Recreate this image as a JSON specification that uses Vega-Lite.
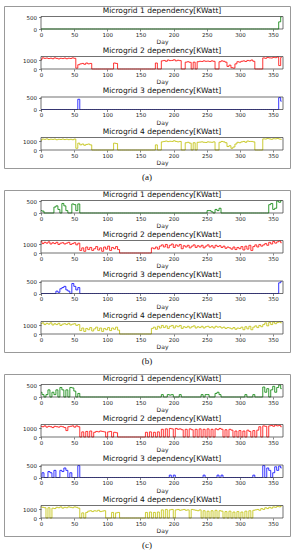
{"$schema":"https://vega.github.io/schema/vega-lite/v6.json","padding":{"left":3,"top":5,"right":0,"bottom":0},"background":"white",
"data":{"values":[
{"d":0,"a1":0,"a2":1100,"a3":0,"a4":1150,"b1":100,"b2":1350,"b3":0,"b4":1200,"c1":200,"c2":1250,"c3":0,"c4":1300},
{"d":3,"a1":0,"a2":1300,"a3":0,"a4":1280,"b1":80,"b2":1100,"b3":0,"b4":1300,"c1":100,"c2":1200,"c3":200,"c4":1250},
{"d":6,"a1":0,"a2":1250,"a3":0,"a4":1250,"b1":0,"b2":1250,"b3":0,"b4":1100,"c1":0,"c2":1300,"c3":0,"c4":1200},
{"d":9,"a1":0,"a2":1280,"a3":0,"a4":1300,"b1":0,"b2":1150,"b3":0,"b4":1250,"c1":100,"c2":1150,"c3":0,"c4":0},
{"d":12,"a1":0,"a2":1220,"a3":0,"a4":1220,"b1":0,"b2":1300,"b3":0,"b4":1150,"c1":300,"c2":1250,"c3":250,"c4":1200},
{"d":15,"a1":0,"a2":1260,"a3":0,"a4":1260,"b1":0,"b2":1050,"b3":0,"b4":1300,"c1":0,"c2":1200,"c3":200,"c4":0},
{"d":18,"a1":0,"a2":1200,"a3":0,"a4":1240,"b1":0,"b2":1200,"b3":0,"b4":1050,"c1":200,"c2":1100,"c3":0,"c4":1150},
{"d":21,"a1":0,"a2":1300,"a3":0,"a4":1280,"b1":250,"b2":1100,"b3":0,"b4":1200,"c1":100,"c2":1250,"c3":300,"c4":1100},
{"d":24,"a1":0,"a2":1240,"a3":0,"a4":1200,"b1":300,"b2":1250,"b3":100,"b4":1100,"c1":300,"c2":1200,"c3":0,"c4":1250},
{"d":27,"a1":0,"a2":1180,"a3":0,"a4":1250,"b1":150,"b2":1000,"b3":50,"b4":1250,"c1":0,"c2":1150,"c3":0,"c4":1200},
{"d":30,"a1":0,"a2":1250,"a3":0,"a4":1230,"b1":0,"b2":1150,"b3":200,"b4":1000,"c1":400,"c2":1250,"c3":300,"c4":1300},
{"d":33,"a1":0,"a2":1220,"a3":0,"a4":1280,"b1":400,"b2":1200,"b3":250,"b4":1150,"c1":300,"c2":1200,"c3":250,"c4":1150},
{"d":36,"a1":0,"a2":1280,"a3":0,"a4":1220,"b1":300,"b2":1050,"b3":300,"b4":1200,"c1":0,"c2":1100,"c3":400,"c4":1250},
{"d":39,"a1":0,"a2":1200,"a3":0,"a4":1260,"b1":100,"b2":1150,"b3":150,"b4":1100,"c1":300,"c2":750,"c3":300,"c4":1200},
{"d":42,"a1":0,"a2":1260,"a3":0,"a4":1210,"b1":0,"b2":1250,"b3":100,"b4":1250,"c1":0,"c2":1200,"c3":0,"c4":1300},
{"d":45,"a1":0,"a2":1230,"a3":0,"a4":1250,"b1":0,"b2":1000,"b3":0,"b4":1050,"c1":400,"c2":1250,"c3":200,"c4":1250},
{"d":48,"a1":0,"a2":1300,"a3":0,"a4":1200,"b1":380,"b2":1100,"b3":420,"b4":1150,"c1":380,"c2":1300,"c3":0,"c4":1200},
{"d":51,"a1":0,"a2":1250,"a3":0,"a4":1280,"b1":350,"b2":1200,"b3":300,"b4":1200,"c1":250,"c2":1150,"c3":0,"c4":1300},
{"d":54,"a1":0,"a2":100,"a3":0,"a4":200,"b1":100,"b2":950,"b3":150,"b4":1000,"c1":0,"c2":1300,"c3":0,"c4":1250},
{"d":57,"a1":0,"a2":500,"a3":430,"a4":800,"b1":380,"b2":1150,"b3":250,"b4":1100,"c1":150,"c2":1200,"c3":500,"c4":1150},
{"d":60,"a1":0,"a2":600,"a3":0,"a4":600,"b1":0,"b2":300,"b3":0,"b4":400,"c1":0,"c2":0,"c3":0,"c4":0},
{"d":63,"a1":0,"a2":650,"a3":0,"a4":700,"b1":0,"b2":600,"b3":0,"b4":700,"c1":0,"c2":600,"c3":0,"c4":600},
{"d":66,"a1":0,"a2":550,"a3":0,"a4":550,"b1":0,"b2":200,"b3":0,"b4":300,"c1":0,"c2":0,"c3":0,"c4":0},
{"d":69,"a1":0,"a2":700,"a3":0,"a4":650,"b1":0,"b2":700,"b3":0,"b4":650,"c1":0,"c2":650,"c3":0,"c4":650},
{"d":72,"a1":0,"a2":600,"a3":0,"a4":700,"b1":0,"b2":400,"b3":0,"b4":500,"c1":0,"c2":0,"c3":0,"c4":800},
{"d":75,"a1":0,"a2":650,"a3":0,"a4":600,"b1":0,"b2":650,"b3":0,"b4":750,"c1":0,"c2":700,"c3":0,"c4":850},
{"d":78,"a1":0,"a2":0,"a3":0,"a4":0,"b1":0,"b2":300,"b3":0,"b4":350,"c1":0,"c2":0,"c3":0,"c4":750},
{"d":81,"a1":0,"a2":0,"a3":0,"a4":0,"b1":0,"b2":500,"b3":0,"b4":600,"c1":0,"c2":550,"c3":0,"c4":850},
{"d":84,"a1":0,"a2":0,"a3":0,"a4":0,"b1":0,"b2":750,"b3":0,"b4":800,"c1":0,"c2":650,"c3":0,"c4":800},
{"d":87,"a1":0,"a2":0,"a3":0,"a4":0,"b1":0,"b2":350,"b3":0,"b4":400,"c1":0,"c2":600,"c3":0,"c4":900},
{"d":90,"a1":0,"a2":0,"a3":0,"a4":0,"b1":0,"b2":600,"b3":0,"b4":700,"c1":0,"c2":700,"c3":0,"c4":750},
{"d":93,"a1":0,"a2":0,"a3":0,"a4":0,"b1":0,"b2":200,"b3":0,"b4":300,"c1":0,"c2":650,"c3":0,"c4":800},
{"d":96,"a1":0,"a2":0,"a3":0,"a4":0,"b1":0,"b2":700,"b3":0,"b4":650,"c1":0,"c2":600,"c3":0,"c4":850},
{"d":99,"a1":0,"a2":0,"a3":0,"a4":0,"b1":0,"b2":450,"b3":0,"b4":500,"c1":0,"c2":0,"c3":0,"c4":0},
{"d":102,"a1":0,"a2":0,"a3":0,"a4":0,"b1":0,"b2":800,"b3":0,"b4":750,"c1":0,"c2":600,"c3":0,"c4":0},
{"d":105,"a1":0,"a2":0,"a3":0,"a4":0,"b1":0,"b2":300,"b3":0,"b4":400,"c1":0,"c2":650,"c3":0,"c4":0},
{"d":108,"a1":0,"a2":0,"a3":0,"a4":0,"b1":0,"b2":650,"b3":0,"b4":700,"c1":0,"c2":0,"c3":0,"c4":650},
{"d":111,"a1":0,"a2":700,"a3":0,"a4":800,"b1":0,"b2":500,"b3":0,"b4":550,"c1":0,"c2":550,"c3":0,"c4":0},
{"d":114,"a1":0,"a2":650,"a3":0,"a4":750,"b1":0,"b2":750,"b3":0,"b4":800,"c1":0,"c2":500,"c3":0,"c4":600},
{"d":117,"a1":0,"a2":0,"a3":0,"a4":0,"b1":0,"b2":400,"b3":0,"b4":450,"c1":0,"c2":0,"c3":0,"c4":650},
{"d":120,"a1":0,"a2":0,"a3":0,"a4":0,"b1":0,"b2":0,"b3":0,"b4":0,"c1":0,"c2":0,"c3":0,"c4":0},
{"d":123,"a1":0,"a2":0,"a3":0,"a4":0,"b1":0,"b2":0,"b3":0,"b4":0,"c1":0,"c2":0,"c3":0,"c4":0},
{"d":126,"a1":0,"a2":0,"a3":0,"a4":0,"b1":0,"b2":0,"b3":0,"b4":0,"c1":0,"c2":0,"c3":0,"c4":0},
{"d":129,"a1":0,"a2":0,"a3":0,"a4":0,"b1":0,"b2":0,"b3":0,"b4":0,"c1":0,"c2":0,"c3":0,"c4":0},
{"d":132,"a1":0,"a2":0,"a3":0,"a4":0,"b1":0,"b2":0,"b3":0,"b4":0,"c1":0,"c2":0,"c3":0,"c4":0},
{"d":135,"a1":0,"a2":0,"a3":0,"a4":0,"b1":0,"b2":0,"b3":0,"b4":0,"c1":0,"c2":0,"c3":0,"c4":0},
{"d":138,"a1":0,"a2":0,"a3":0,"a4":0,"b1":0,"b2":0,"b3":0,"b4":0,"c1":0,"c2":0,"c3":0,"c4":0},
{"d":141,"a1":0,"a2":0,"a3":0,"a4":0,"b1":0,"b2":0,"b3":0,"b4":0,"c1":0,"c2":0,"c3":0,"c4":0},
{"d":144,"a1":0,"a2":0,"a3":0,"a4":0,"b1":0,"b2":0,"b3":0,"b4":0,"c1":0,"c2":0,"c3":0,"c4":0},
{"d":147,"a1":0,"a2":0,"a3":0,"a4":0,"b1":0,"b2":0,"b3":0,"b4":0,"c1":0,"c2":0,"c3":0,"c4":0},
{"d":150,"a1":0,"a2":0,"a3":0,"a4":0,"b1":0,"b2":0,"b3":0,"b4":0,"c1":0,"c2":0,"c3":0,"c4":0},
{"d":153,"a1":0,"a2":0,"a3":0,"a4":0,"b1":0,"b2":0,"b3":0,"b4":0,"c1":0,"c2":0,"c3":0,"c4":0},
{"d":156,"a1":0,"a2":0,"a3":0,"a4":0,"b1":0,"b2":0,"b3":0,"b4":0,"c1":0,"c2":0,"c3":0,"c4":0},
{"d":159,"a1":0,"a2":0,"a3":0,"a4":0,"b1":0,"b2":0,"b3":0,"b4":0,"c1":0,"c2":550,"c3":0,"c4":650},
{"d":162,"a1":0,"a2":0,"a3":0,"a4":0,"b1":0,"b2":0,"b3":0,"b4":0,"c1":0,"c2":0,"c3":0,"c4":0},
{"d":165,"a1":0,"a2":0,"a3":0,"a4":0,"b1":0,"b2":0,"b3":0,"b4":0,"c1":0,"c2":600,"c3":0,"c4":700},
{"d":168,"a1":0,"a2":0,"a3":0,"a4":0,"b1":0,"b2":600,"b3":0,"b4":650,"c1":0,"c2":0,"c3":0,"c4":0},
{"d":171,"a1":0,"a2":0,"a3":0,"a4":0,"b1":0,"b2":500,"b3":0,"b4":800,"c1":0,"c2":550,"c3":0,"c4":650},
{"d":174,"a1":0,"a2":700,"a3":0,"a4":600,"b1":0,"b2":700,"b3":0,"b4":550,"c1":0,"c2":0,"c3":0,"c4":0},
{"d":177,"a1":0,"a2":0,"a3":0,"a4":0,"b1":0,"b2":450,"b3":0,"b4":900,"c1":0,"c2":600,"c3":0,"c4":700},
{"d":180,"a1":0,"a2":0,"a3":0,"a4":0,"b1":0,"b2":800,"b3":0,"b4":700,"c1":0,"c2":0,"c3":0,"c4":0},
{"d":183,"a1":0,"a2":950,"a3":0,"a4":950,"b1":0,"b2":950,"b3":0,"b4":1000,"c1":100,"c2":900,"c3":0,"c4":950},
{"d":186,"a1":0,"a2":1000,"a3":0,"a4":1000,"b1":0,"b2":700,"b3":0,"b4":750,"c1":0,"c2":0,"c3":0,"c4":0},
{"d":189,"a1":0,"a2":900,"a3":0,"a4":1050,"b1":0,"b2":1000,"b3":0,"b4":950,"c1":0,"c2":950,"c3":0,"c4":1000},
{"d":192,"a1":0,"a2":1050,"a3":0,"a4":980,"b1":0,"b2":600,"b3":0,"b4":650,"c1":100,"c2":0,"c3":0,"c4":0},
{"d":195,"a1":0,"a2":980,"a3":0,"a4":1020,"b1":0,"b2":900,"b3":0,"b4":900,"c1":80,"c2":1000,"c3":100,"c4":950},
{"d":198,"a1":0,"a2":1000,"a3":0,"a4":1000,"b1":0,"b2":1050,"b3":0,"b4":1000,"c1":100,"c2":950,"c3":0,"c4":1000},
{"d":201,"a1":0,"a2":1080,"a3":0,"a4":1080,"b1":0,"b2":650,"b3":0,"b4":700,"c1":0,"c2":0,"c3":100,"c4":0},
{"d":204,"a1":0,"a2":950,"a3":0,"a4":1000,"b1":0,"b2":950,"b3":0,"b4":950,"c1":0,"c2":1000,"c3":0,"c4":950},
{"d":207,"a1":0,"a2":1020,"a3":0,"a4":950,"b1":0,"b2":800,"b3":0,"b4":850,"c1":0,"c2":900,"c3":0,"c4":1000},
{"d":210,"a1":0,"a2":980,"a3":0,"a4":1000,"b1":0,"b2":1000,"b3":0,"b4":1000,"c1":100,"c2":950,"c3":0,"c4":900},
{"d":213,"a1":0,"a2":0,"a3":0,"a4":0,"b1":0,"b2":500,"b3":0,"b4":650,"c1":0,"c2":850,"c3":0,"c4":950},
{"d":216,"a1":0,"a2":0,"a3":0,"a4":0,"b1":0,"b2":850,"b3":0,"b4":850,"c1":0,"c2":0,"c3":0,"c4":1000},
{"d":219,"a1":0,"a2":800,"a3":0,"a4":850,"b1":0,"b2":700,"b3":0,"b4":750,"c1":0,"c2":900,"c3":0,"c4":900},
{"d":222,"a1":0,"a2":850,"a3":0,"a4":900,"b1":0,"b2":900,"b3":0,"b4":900,"c1":0,"c2":0,"c3":0,"c4":950},
{"d":225,"a1":0,"a2":780,"a3":0,"a4":800,"b1":0,"b2":600,"b3":0,"b4":700,"c1":0,"c2":950,"c3":0,"c4":0},
{"d":228,"a1":0,"a2":0,"a3":0,"a4":0,"b1":0,"b2":800,"b3":0,"b4":850,"c1":0,"c2":850,"c3":0,"c4":1000},
{"d":231,"a1":0,"a2":800,"a3":0,"a4":850,"b1":0,"b2":950,"b3":0,"b4":950,"c1":0,"c2":0,"c3":0,"c4":950},
{"d":234,"a1":0,"a2":0,"a3":0,"a4":0,"b1":0,"b2":650,"b3":0,"b4":700,"c1":0,"c2":900,"c3":0,"c4":900},
{"d":237,"a1":0,"a2":850,"a3":0,"a4":900,"b1":0,"b2":850,"b3":0,"b4":850,"c1":0,"c2":0,"c3":0,"c4":850},
{"d":240,"a1":0,"a2":900,"a3":0,"a4":920,"b1":0,"b2":700,"b3":0,"b4":750,"c1":0,"c2":950,"c3":0,"c4":950},
{"d":243,"a1":0,"a2":880,"a3":0,"a4":950,"b1":0,"b2":900,"b3":0,"b4":900,"c1":100,"c2":0,"c3":0,"c4":0},
{"d":246,"a1":0,"a2":950,"a3":0,"a4":900,"b1":0,"b2":600,"b3":0,"b4":700,"c1":0,"c2":900,"c3":100,"c4":850},
{"d":249,"a1":0,"a2":900,"a3":0,"a4":880,"b1":0,"b2":800,"b3":0,"b4":850,"c1":100,"c2":0,"c3":0,"c4":0},
{"d":252,"a1":0,"a2":920,"a3":0,"a4":950,"b1":100,"b2":950,"b3":0,"b4":900,"c1":100,"c2":950,"c3":0,"c4":800},
{"d":255,"a1":0,"a2":880,"a3":0,"a4":920,"b1":100,"b2":700,"b3":0,"b4":750,"c1":0,"c2":0,"c3":0,"c4":0},
{"d":258,"a1":0,"a2":950,"a3":0,"a4":900,"b1":50,"b2":850,"b3":0,"b4":850,"c1":0,"c2":900,"c3":0,"c4":850},
{"d":261,"a1":0,"a2":900,"a3":0,"a4":950,"b1":0,"b2":600,"b3":0,"b4":700,"c1":0,"c2":0,"c3":0,"c4":0},
{"d":264,"a1":0,"a2":0,"a3":0,"a4":0,"b1":150,"b2":900,"b3":0,"b4":900,"c1":150,"c2":950,"c3":0,"c4":900},
{"d":267,"a1":0,"a2":0,"a3":0,"a4":0,"b1":100,"b2":750,"b3":0,"b4":800,"c1":200,"c2":850,"c3":100,"c4":0},
{"d":270,"a1":0,"a2":850,"a3":0,"a4":900,"b1":200,"b2":850,"b3":0,"b4":850,"c1":100,"c2":1000,"c3":0,"c4":850},
{"d":273,"a1":0,"a2":950,"a3":0,"a4":1000,"b1":0,"b2":650,"b3":0,"b4":700,"c1":0,"c2":900,"c3":100,"c4":800},
{"d":276,"a1":0,"a2":900,"a3":0,"a4":950,"b1":0,"b2":800,"b3":0,"b4":800,"c1":0,"c2":0,"c3":0,"c4":0},
{"d":279,"a1":0,"a2":800,"a3":0,"a4":850,"b1":0,"b2":550,"b3":0,"b4":650,"c1":0,"c2":850,"c3":0,"c4":750},
{"d":282,"a1":0,"a2":300,"a3":0,"a4":400,"b1":0,"b2":700,"b3":0,"b4":750,"c1":0,"c2":0,"c3":0,"c4":0},
{"d":285,"a1":0,"a2":450,"a3":0,"a4":500,"b1":0,"b2":600,"b3":0,"b4":700,"c1":0,"c2":900,"c3":0,"c4":800},
{"d":288,"a1":0,"a2":150,"a3":0,"a4":200,"b1":0,"b2":450,"b3":0,"b4":600,"c1":0,"c2":800,"c3":0,"c4":0},
{"d":291,"a1":0,"a2":100,"a3":0,"a4":350,"b1":0,"b2":700,"b3":0,"b4":750,"c1":0,"c2":0,"c3":0,"c4":700},
{"d":294,"a1":0,"a2":600,"a3":0,"a4":700,"b1":0,"b2":400,"b3":0,"b4":550,"c1":0,"c2":700,"c3":0,"c4":0},
{"d":297,"a1":0,"a2":850,"a3":0,"a4":900,"b1":0,"b2":650,"b3":0,"b4":700,"c1":0,"c2":0,"c3":0,"c4":750},
{"d":300,"a1":0,"a2":800,"a3":0,"a4":850,"b1":0,"b2":500,"b3":0,"b4":650,"c1":0,"c2":750,"c3":0,"c4":0},
{"d":303,"a1":0,"a2":900,"a3":0,"a4":950,"b1":0,"b2":750,"b3":0,"b4":800,"c1":0,"c2":0,"c3":0,"c4":700},
{"d":306,"a1":0,"a2":950,"a3":0,"a4":1000,"b1":0,"b2":350,"b3":0,"b4":500,"c1":0,"c2":700,"c3":0,"c4":0},
{"d":309,"a1":0,"a2":880,"a3":0,"a4":900,"b1":0,"b2":800,"b3":0,"b4":850,"c1":100,"c2":0,"c3":0,"c4":800},
{"d":312,"a1":0,"a2":1000,"a3":0,"a4":1050,"b1":0,"b2":450,"b3":0,"b4":600,"c1":0,"c2":800,"c3":0,"c4":0},
{"d":315,"a1":0,"a2":950,"a3":0,"a4":1000,"b1":0,"b2":900,"b3":0,"b4":900,"c1":0,"c2":650,"c3":0,"c4":850},
{"d":318,"a1":0,"a2":1050,"a3":0,"a4":1000,"b1":0,"b2":300,"b3":0,"b4":500,"c1":0,"c2":0,"c3":0,"c4":0},
{"d":321,"a1":0,"a2":900,"a3":0,"a4":950,"b1":0,"b2":750,"b3":0,"b4":800,"c1":100,"c2":750,"c3":100,"c4":900},
{"d":324,"a1":0,"a2":0,"a3":0,"a4":0,"b1":0,"b2":950,"b3":0,"b4":950,"c1":0,"c2":0,"c3":0,"c4":950},
{"d":327,"a1":0,"a2":0,"a3":0,"a4":0,"b1":0,"b2":700,"b3":0,"b4":750,"c1":0,"c2":800,"c3":0,"c4":1000},
{"d":330,"a1":0,"a2":0,"a3":0,"a4":0,"b1":0,"b2":1000,"b3":0,"b4":1000,"c1":0,"c2":1200,"c3":0,"c4":900},
{"d":333,"a1":0,"a2":0,"a3":0,"a4":0,"b1":0,"b2":800,"b3":0,"b4":850,"c1":0,"c2":0,"c3":0,"c4":1100},
{"d":336,"a1":0,"a2":1300,"a3":0,"a4":1300,"b1":0,"b2":950,"b3":0,"b4":1100,"c1":420,"c2":1300,"c3":500,"c4":1000},
{"d":339,"a1":0,"a2":1250,"a3":0,"a4":1280,"b1":0,"b2":1100,"b3":0,"b4":1300,"c1":200,"c2":1250,"c3":0,"c4":1200},
{"d":342,"a1":0,"a2":1350,"a3":0,"a4":1350,"b1":0,"b2":900,"b3":0,"b4":950,"c1":350,"c2":0,"c3":400,"c4":1100},
{"d":345,"a1":0,"a2":1300,"a3":0,"a4":1300,"b1":350,"b2":1250,"b3":0,"b4":1350,"c1":0,"c2":1300,"c3":300,"c4":1250},
{"d":348,"a1":0,"a2":1280,"a3":0,"a4":1250,"b1":400,"b2":1050,"b3":0,"b4":1100,"c1":300,"c2":1350,"c3":0,"c4":1150},
{"d":351,"a1":0,"a2":1350,"a3":0,"a4":1320,"b1":150,"b2":1350,"b3":0,"b4":1400,"c1":450,"c2":1250,"c3":200,"c4":1300},
{"d":354,"a1":0,"a2":1320,"a3":0,"a4":1300,"b1":200,"b2":1150,"b3":0,"b4":1200,"c1":200,"c2":1400,"c3":450,"c4":1250},
{"d":357,"a1":0,"a2":1400,"a3":0,"a4":1350,"b1":500,"b2":1300,"b3":0,"b4":1350,"c1":400,"c2":1300,"c3":300,"c4":1350},
{"d":360,"a1":300,"a2":400,"a3":500,"a4":1280,"b1":450,"b2":1400,"b3":450,"b4":1400,"c1":500,"c2":1350,"c3":480,"c4":1300},
{"d":363,"a1":510,"a2":1350,"a3":350,"a4":1250,"b1":520,"b2":1200,"b3":500,"b4":1300,"c1":350,"c2":1200,"c3":400,"c4":1400}
]},
"config":{"font":"DejaVu Sans","view":{"stroke":"#999","strokeWidth":1},
"axis":{"grid":false,"domain":false,"labelFontSize":5.5,"labelColor":"#222","tickColor":"#333","tickWidth":0.6,"labelFlush":false,"labelOverlap":false,"titleFontSize":6,"titleFontWeight":"normal","titleColor":"#222"},
"axisX":{"tickSize":2,"labelPadding":1,"titlePadding":1},
"axisY":{"tickSize":2.5,"labelPadding":2},
"title":{"font":"Liberation Serif","fontSize":9,"fontWeight":"normal","color":"#111","orient":"bottom","anchor":"middle","offset":5},
"text":{"fontSize":7.5,"color":"#111","dy":-6},
"line":{"strokeWidth":0.8,"interpolate":"step"}},
"spacing":6,
"vconcat":[
{"title":"(a)","width":286,"height":162,
"resolve":{"scale":{"x":"independent","y":"independent"},"axis":{"x":"independent","y":"independent"}},
"layer":[
{"layer":[
{"mark":{"type":"line","color":"#008000"},"encoding":{"x":{"field":"d","type":"quantitative","scale":{"domain":[0,365],"range":[37,279],"nice":false,"zero":false},"axis":{"orient":"bottom","offset":-139,"values":[0,50,100,150,200,250,300,350],"title":"Day"}},"y":{"field":"a1","type":"quantitative","scale":{"domain":[0,525],"range":[23,10.5],"nice":false,"zero":false},"axis":{"orient":"left","offset":-37,"values":[0,500],"title":null,"format":"d"}}}},
{"data":{"values":[{}]},"mark":{"type":"rect","fill":null,"stroke":"#333","strokeWidth":0.7},"encoding":{"x":{"datum":0,"type":"quantitative","axis":{"orient":"bottom","offset":-139,"values":[0,50,100,150,200,250,300,350],"title":"Day"}},"x2":{"datum":365},"y":{"datum":0,"type":"quantitative","axis":{"orient":"left","offset":-37,"values":[0,500],"title":null,"format":"d"}},"y2":{"datum":525}}},
{"data":{"values":[{}]},"mark":"text","encoding":{"x":{"datum":182.5,"type":"quantitative","axis":{"orient":"bottom","offset":-139,"values":[0,50,100,150,200,250,300,350],"title":"Day"}},"y":{"datum":525,"type":"quantitative","axis":{"orient":"left","offset":-37,"values":[0,500],"title":null,"format":"d"}},"text":{"value":"Microgrid 1 dependency[KWatt]"}}}
]},
{"layer":[
{"mark":{"type":"line","color":"#ff0000"},"encoding":{"x":{"field":"d","type":"quantitative","scale":{"domain":[0,365],"range":[37,279],"nice":false,"zero":false},"axis":{"orient":"bottom","offset":-99,"values":[0,50,100,150,200,250,300,350],"title":"Day"}},"y":{"field":"a2","type":"quantitative","scale":{"domain":[0,1460],"range":[63,50.5],"nice":false,"zero":false},"axis":{"orient":"left","offset":-37,"values":[0,1000],"title":null,"format":"d"}}}},
{"data":{"values":[{}]},"mark":{"type":"rect","fill":null,"stroke":"#333","strokeWidth":0.7},"encoding":{"x":{"datum":0,"type":"quantitative","axis":{"orient":"bottom","offset":-99,"values":[0,50,100,150,200,250,300,350],"title":"Day"}},"x2":{"datum":365},"y":{"datum":0,"type":"quantitative","axis":{"orient":"left","offset":-37,"values":[0,1000],"title":null,"format":"d"}},"y2":{"datum":1460}}},
{"data":{"values":[{}]},"mark":"text","encoding":{"x":{"datum":182.5,"type":"quantitative","axis":{"orient":"bottom","offset":-99,"values":[0,50,100,150,200,250,300,350],"title":"Day"}},"y":{"datum":1460,"type":"quantitative","axis":{"orient":"left","offset":-37,"values":[0,1000],"title":null,"format":"d"}},"text":{"value":"Microgrid 2 dependency[KWatt]"}}}
]},
{"layer":[
{"mark":{"type":"line","color":"#0000ff"},"encoding":{"x":{"field":"d","type":"quantitative","scale":{"domain":[0,365],"range":[37,279],"nice":false,"zero":false},"axis":{"orient":"bottom","offset":-58.5,"values":[0,50,100,150,200,250,300,350],"title":"Day"}},"y":{"field":"a3","type":"quantitative","scale":{"domain":[0,525],"range":[103.5,91],"nice":false,"zero":false},"axis":{"orient":"left","offset":-37,"values":[0,500],"title":null,"format":"d"}}}},
{"data":{"values":[{}]},"mark":{"type":"rect","fill":null,"stroke":"#333","strokeWidth":0.7},"encoding":{"x":{"datum":0,"type":"quantitative","axis":{"orient":"bottom","offset":-58.5,"values":[0,50,100,150,200,250,300,350],"title":"Day"}},"x2":{"datum":365},"y":{"datum":0,"type":"quantitative","axis":{"orient":"left","offset":-37,"values":[0,500],"title":null,"format":"d"}},"y2":{"datum":525}}},
{"data":{"values":[{}]},"mark":"text","encoding":{"x":{"datum":182.5,"type":"quantitative","axis":{"orient":"bottom","offset":-58.5,"values":[0,50,100,150,200,250,300,350],"title":"Day"}},"y":{"datum":525,"type":"quantitative","axis":{"orient":"left","offset":-37,"values":[0,500],"title":null,"format":"d"}},"text":{"value":"Microgrid 3 dependency[KWatt]"}}}
]},
{"layer":[
{"mark":{"type":"line","color":"#bfbf00"},"encoding":{"x":{"field":"d","type":"quantitative","scale":{"domain":[0,365],"range":[37,279],"nice":false,"zero":false},"axis":{"orient":"bottom","offset":-18,"values":[0,50,100,150,200,250,300,350],"title":"Day"}},"y":{"field":"a4","type":"quantitative","scale":{"domain":[0,1460],"range":[144,131.5],"nice":false,"zero":false},"axis":{"orient":"left","offset":-37,"values":[0,1000],"title":null,"format":"d"}}}},
{"data":{"values":[{}]},"mark":{"type":"rect","fill":null,"stroke":"#333","strokeWidth":0.7},"encoding":{"x":{"datum":0,"type":"quantitative","axis":{"orient":"bottom","offset":-18,"values":[0,50,100,150,200,250,300,350],"title":"Day"}},"x2":{"datum":365},"y":{"datum":0,"type":"quantitative","axis":{"orient":"left","offset":-37,"values":[0,1000],"title":null,"format":"d"}},"y2":{"datum":1460}}},
{"data":{"values":[{}]},"mark":"text","encoding":{"x":{"datum":182.5,"type":"quantitative","axis":{"orient":"bottom","offset":-18,"values":[0,50,100,150,200,250,300,350],"title":"Day"}},"y":{"datum":1460,"type":"quantitative","axis":{"orient":"left","offset":-37,"values":[0,1000],"title":null,"format":"d"}},"text":{"value":"Microgrid 4 dependency[KWatt]"}}}
]}
]},
{"title":"(b)","width":286,"height":162,
"resolve":{"scale":{"x":"independent","y":"independent"},"axis":{"x":"independent","y":"independent"}},
"layer":[
{"layer":[
{"mark":{"type":"line","color":"#008000"},"encoding":{"x":{"field":"d","type":"quantitative","scale":{"domain":[0,365],"range":[37,279],"nice":false,"zero":false},"axis":{"orient":"bottom","offset":-139,"values":[0,50,100,150,200,250,300,350],"title":"Day"}},"y":{"field":"b1","type":"quantitative","scale":{"domain":[0,525],"range":[23,10.5],"nice":false,"zero":false},"axis":{"orient":"left","offset":-37,"values":[0,500],"title":null,"format":"d"}}}},
{"data":{"values":[{}]},"mark":{"type":"rect","fill":null,"stroke":"#333","strokeWidth":0.7},"encoding":{"x":{"datum":0,"type":"quantitative","axis":{"orient":"bottom","offset":-139,"values":[0,50,100,150,200,250,300,350],"title":"Day"}},"x2":{"datum":365},"y":{"datum":0,"type":"quantitative","axis":{"orient":"left","offset":-37,"values":[0,500],"title":null,"format":"d"}},"y2":{"datum":525}}},
{"data":{"values":[{}]},"mark":"text","encoding":{"x":{"datum":182.5,"type":"quantitative","axis":{"orient":"bottom","offset":-139,"values":[0,50,100,150,200,250,300,350],"title":"Day"}},"y":{"datum":525,"type":"quantitative","axis":{"orient":"left","offset":-37,"values":[0,500],"title":null,"format":"d"}},"text":{"value":"Microgrid 1 dependency[KWatt]"}}}
]},
{"layer":[
{"mark":{"type":"line","color":"#ff0000"},"encoding":{"x":{"field":"d","type":"quantitative","scale":{"domain":[0,365],"range":[37,279],"nice":false,"zero":false},"axis":{"orient":"bottom","offset":-99,"values":[0,50,100,150,200,250,300,350],"title":"Day"}},"y":{"field":"b2","type":"quantitative","scale":{"domain":[0,1460],"range":[63,50.5],"nice":false,"zero":false},"axis":{"orient":"left","offset":-37,"values":[0,1000],"title":null,"format":"d"}}}},
{"data":{"values":[{}]},"mark":{"type":"rect","fill":null,"stroke":"#333","strokeWidth":0.7},"encoding":{"x":{"datum":0,"type":"quantitative","axis":{"orient":"bottom","offset":-99,"values":[0,50,100,150,200,250,300,350],"title":"Day"}},"x2":{"datum":365},"y":{"datum":0,"type":"quantitative","axis":{"orient":"left","offset":-37,"values":[0,1000],"title":null,"format":"d"}},"y2":{"datum":1460}}},
{"data":{"values":[{}]},"mark":"text","encoding":{"x":{"datum":182.5,"type":"quantitative","axis":{"orient":"bottom","offset":-99,"values":[0,50,100,150,200,250,300,350],"title":"Day"}},"y":{"datum":1460,"type":"quantitative","axis":{"orient":"left","offset":-37,"values":[0,1000],"title":null,"format":"d"}},"text":{"value":"Microgrid 2 dependency[KWatt]"}}}
]},
{"layer":[
{"mark":{"type":"line","color":"#0000ff"},"encoding":{"x":{"field":"d","type":"quantitative","scale":{"domain":[0,365],"range":[37,279],"nice":false,"zero":false},"axis":{"orient":"bottom","offset":-58.5,"values":[0,50,100,150,200,250,300,350],"title":"Day"}},"y":{"field":"b3","type":"quantitative","scale":{"domain":[0,525],"range":[103.5,91],"nice":false,"zero":false},"axis":{"orient":"left","offset":-37,"values":[0,500],"title":null,"format":"d"}}}},
{"data":{"values":[{}]},"mark":{"type":"rect","fill":null,"stroke":"#333","strokeWidth":0.7},"encoding":{"x":{"datum":0,"type":"quantitative","axis":{"orient":"bottom","offset":-58.5,"values":[0,50,100,150,200,250,300,350],"title":"Day"}},"x2":{"datum":365},"y":{"datum":0,"type":"quantitative","axis":{"orient":"left","offset":-37,"values":[0,500],"title":null,"format":"d"}},"y2":{"datum":525}}},
{"data":{"values":[{}]},"mark":"text","encoding":{"x":{"datum":182.5,"type":"quantitative","axis":{"orient":"bottom","offset":-58.5,"values":[0,50,100,150,200,250,300,350],"title":"Day"}},"y":{"datum":525,"type":"quantitative","axis":{"orient":"left","offset":-37,"values":[0,500],"title":null,"format":"d"}},"text":{"value":"Microgrid 3 dependency[KWatt]"}}}
]},
{"layer":[
{"mark":{"type":"line","color":"#bfbf00"},"encoding":{"x":{"field":"d","type":"quantitative","scale":{"domain":[0,365],"range":[37,279],"nice":false,"zero":false},"axis":{"orient":"bottom","offset":-18,"values":[0,50,100,150,200,250,300,350],"title":"Day"}},"y":{"field":"b4","type":"quantitative","scale":{"domain":[0,1460],"range":[144,131.5],"nice":false,"zero":false},"axis":{"orient":"left","offset":-37,"values":[0,1000],"title":null,"format":"d"}}}},
{"data":{"values":[{}]},"mark":{"type":"rect","fill":null,"stroke":"#333","strokeWidth":0.7},"encoding":{"x":{"datum":0,"type":"quantitative","axis":{"orient":"bottom","offset":-18,"values":[0,50,100,150,200,250,300,350],"title":"Day"}},"x2":{"datum":365},"y":{"datum":0,"type":"quantitative","axis":{"orient":"left","offset":-37,"values":[0,1000],"title":null,"format":"d"}},"y2":{"datum":1460}}},
{"data":{"values":[{}]},"mark":"text","encoding":{"x":{"datum":182.5,"type":"quantitative","axis":{"orient":"bottom","offset":-18,"values":[0,50,100,150,200,250,300,350],"title":"Day"}},"y":{"datum":1460,"type":"quantitative","axis":{"orient":"left","offset":-37,"values":[0,1000],"title":null,"format":"d"}},"text":{"value":"Microgrid 4 dependency[KWatt]"}}}
]}
]},
{"title":"(c)","width":286,"height":162,
"resolve":{"scale":{"x":"independent","y":"independent"},"axis":{"x":"independent","y":"independent"}},
"layer":[
{"layer":[
{"mark":{"type":"line","color":"#008000"},"encoding":{"x":{"field":"d","type":"quantitative","scale":{"domain":[0,365],"range":[37,279],"nice":false,"zero":false},"axis":{"orient":"bottom","offset":-139,"values":[0,50,100,150,200,250,300,350],"title":"Day"}},"y":{"field":"c1","type":"quantitative","scale":{"domain":[0,525],"range":[23,10.5],"nice":false,"zero":false},"axis":{"orient":"left","offset":-37,"values":[0,500],"title":null,"format":"d"}}}},
{"data":{"values":[{}]},"mark":{"type":"rect","fill":null,"stroke":"#333","strokeWidth":0.7},"encoding":{"x":{"datum":0,"type":"quantitative","axis":{"orient":"bottom","offset":-139,"values":[0,50,100,150,200,250,300,350],"title":"Day"}},"x2":{"datum":365},"y":{"datum":0,"type":"quantitative","axis":{"orient":"left","offset":-37,"values":[0,500],"title":null,"format":"d"}},"y2":{"datum":525}}},
{"data":{"values":[{}]},"mark":"text","encoding":{"x":{"datum":182.5,"type":"quantitative","axis":{"orient":"bottom","offset":-139,"values":[0,50,100,150,200,250,300,350],"title":"Day"}},"y":{"datum":525,"type":"quantitative","axis":{"orient":"left","offset":-37,"values":[0,500],"title":null,"format":"d"}},"text":{"value":"Microgrid 1 dependency[KWatt]"}}}
]},
{"layer":[
{"mark":{"type":"line","color":"#ff0000"},"encoding":{"x":{"field":"d","type":"quantitative","scale":{"domain":[0,365],"range":[37,279],"nice":false,"zero":false},"axis":{"orient":"bottom","offset":-99,"values":[0,50,100,150,200,250,300,350],"title":"Day"}},"y":{"field":"c2","type":"quantitative","scale":{"domain":[0,1460],"range":[63,50.5],"nice":false,"zero":false},"axis":{"orient":"left","offset":-37,"values":[0,1000],"title":null,"format":"d"}}}},
{"data":{"values":[{}]},"mark":{"type":"rect","fill":null,"stroke":"#333","strokeWidth":0.7},"encoding":{"x":{"datum":0,"type":"quantitative","axis":{"orient":"bottom","offset":-99,"values":[0,50,100,150,200,250,300,350],"title":"Day"}},"x2":{"datum":365},"y":{"datum":0,"type":"quantitative","axis":{"orient":"left","offset":-37,"values":[0,1000],"title":null,"format":"d"}},"y2":{"datum":1460}}},
{"data":{"values":[{}]},"mark":"text","encoding":{"x":{"datum":182.5,"type":"quantitative","axis":{"orient":"bottom","offset":-99,"values":[0,50,100,150,200,250,300,350],"title":"Day"}},"y":{"datum":1460,"type":"quantitative","axis":{"orient":"left","offset":-37,"values":[0,1000],"title":null,"format":"d"}},"text":{"value":"Microgrid 2 dependency[KWatt]"}}}
]},
{"layer":[
{"mark":{"type":"line","color":"#0000ff"},"encoding":{"x":{"field":"d","type":"quantitative","scale":{"domain":[0,365],"range":[37,279],"nice":false,"zero":false},"axis":{"orient":"bottom","offset":-58.5,"values":[0,50,100,150,200,250,300,350],"title":"Day"}},"y":{"field":"c3","type":"quantitative","scale":{"domain":[0,525],"range":[103.5,91],"nice":false,"zero":false},"axis":{"orient":"left","offset":-37,"values":[0,500],"title":null,"format":"d"}}}},
{"data":{"values":[{}]},"mark":{"type":"rect","fill":null,"stroke":"#333","strokeWidth":0.7},"encoding":{"x":{"datum":0,"type":"quantitative","axis":{"orient":"bottom","offset":-58.5,"values":[0,50,100,150,200,250,300,350],"title":"Day"}},"x2":{"datum":365},"y":{"datum":0,"type":"quantitative","axis":{"orient":"left","offset":-37,"values":[0,500],"title":null,"format":"d"}},"y2":{"datum":525}}},
{"data":{"values":[{}]},"mark":"text","encoding":{"x":{"datum":182.5,"type":"quantitative","axis":{"orient":"bottom","offset":-58.5,"values":[0,50,100,150,200,250,300,350],"title":"Day"}},"y":{"datum":525,"type":"quantitative","axis":{"orient":"left","offset":-37,"values":[0,500],"title":null,"format":"d"}},"text":{"value":"Microgrid 3 dependency[KWatt]"}}}
]},
{"layer":[
{"mark":{"type":"line","color":"#bfbf00"},"encoding":{"x":{"field":"d","type":"quantitative","scale":{"domain":[0,365],"range":[37,279],"nice":false,"zero":false},"axis":{"orient":"bottom","offset":-18,"values":[0,50,100,150,200,250,300,350],"title":"Day"}},"y":{"field":"c4","type":"quantitative","scale":{"domain":[0,1460],"range":[144,131.5],"nice":false,"zero":false},"axis":{"orient":"left","offset":-37,"values":[0,1000],"title":null,"format":"d"}}}},
{"data":{"values":[{}]},"mark":{"type":"rect","fill":null,"stroke":"#333","strokeWidth":0.7},"encoding":{"x":{"datum":0,"type":"quantitative","axis":{"orient":"bottom","offset":-18,"values":[0,50,100,150,200,250,300,350],"title":"Day"}},"x2":{"datum":365},"y":{"datum":0,"type":"quantitative","axis":{"orient":"left","offset":-37,"values":[0,1000],"title":null,"format":"d"}},"y2":{"datum":1460}}},
{"data":{"values":[{}]},"mark":"text","encoding":{"x":{"datum":182.5,"type":"quantitative","axis":{"orient":"bottom","offset":-18,"values":[0,50,100,150,200,250,300,350],"title":"Day"}},"y":{"datum":1460,"type":"quantitative","axis":{"orient":"left","offset":-37,"values":[0,1000],"title":null,"format":"d"}},"text":{"value":"Microgrid 4 dependency[KWatt]"}}}
]}
]}
]}
